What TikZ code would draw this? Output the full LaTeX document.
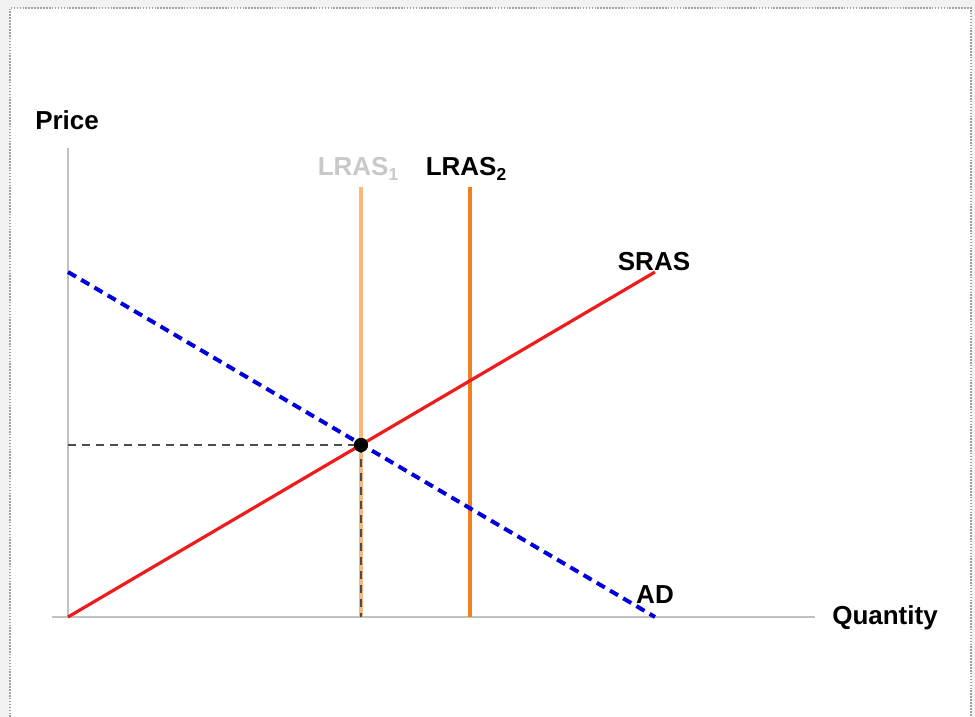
\documentclass[tikz,border=0pt]{standalone}
\usepackage{fontspec}
\setmainfont{Liberation Sans}
\definecolor{bgout}{HTML}{F2F2F2}
\definecolor{axisgray}{HTML}{C0C0C0}
\definecolor{lras1}{HTML}{F8B77C}
\definecolor{lras2}{HTML}{F0801E}
\definecolor{srasred}{HTML}{EE1C1C}
\definecolor{adblue}{HTML}{0000DD}
\definecolor{lightlbl}{HTML}{C8C8C8}
\definecolor{bordergray}{HTML}{A0A0A0}
\tikzset{
  lbl/.style={font=\bfseries\fontsize{19.5}{21}\selectfont, inner sep=0pt},
  axisline/.style={draw=axisgray, line width=1.5pt},
  guide/.style={draw=black!70, line width=0.9pt, dash pattern=on 6pt off 4.5pt},
}
\newcommand{\mysub}[1]{\raisebox{-0.35ex}{\fontsize{13}{14}\selectfont #1}}
\begin{document}
\begin{tikzpicture}[x=0.75pt,y=-0.75pt]
\useasboundingbox (0,0) rectangle (975,717);
\fill[bgout] (0,0) rectangle (975,717);
\fill[white] (10,8) rectangle (971,717);
\draw[bordergray, line width=1.4pt, dash pattern=on 1.2pt off 1pt] (10,720) -- (10,8) -- (971,8) -- (971,720);
% coordinates
\coordinate (origin) at (68,617);
\coordinate (ytop) at (68,148);
\coordinate (xleft) at (52,617);
\coordinate (xright) at (815,617);
\coordinate (l1top) at (361,187);
\coordinate (l1bot) at (361,617);
\coordinate (l2top) at (470,187);
\coordinate (l2bot) at (470,617);
\coordinate (srasend) at (655,272);
\coordinate (adstart) at (68,272);
\coordinate (adend) at (655,617);
\coordinate (pleft) at (68,445);
% axes
\draw[axisline] (origin) -- (ytop);
\draw[axisline] (xleft) -- (xright);
% LRAS
\draw[lras1, line width=2.4pt] (l1top) -- (l1bot);
\draw[lras2, line width=2.6pt] (l2top) -- (l2bot);
% guides
\node[circle, fill=black, minimum size=10.5pt, inner sep=0pt] (eq) at (361,445) {};
\draw[guide] (pleft) -- (eq.center);
\draw[guide] (eq.center) -- (l1bot);
% SRAS and AD
\draw[srasred, line width=2.4pt] (origin) -- (srasend);
\draw[adblue, line width=3pt, dash pattern=on 7pt off 4.5pt] (adstart) -- (adend);
\node[circle, fill=black, minimum size=10.5pt, inner sep=0pt] at (eq) {};
% labels
\node[lbl, anchor=west] (price) at (35,120) {Price};
\node[lbl, anchor=west] (qty) at (832,618) {Quantity};
\node[lbl, text=lightlbl] (lab1) at (358,169) {LRAS\mysub{1}};
\node[lbl] (lab2) at (466,169) {LRAS\mysub{2}};
\node[lbl] (sras) at (654,262) {SRAS};
\node[lbl] (ad) at (655,595) {AD};
\end{tikzpicture}
\end{document}
